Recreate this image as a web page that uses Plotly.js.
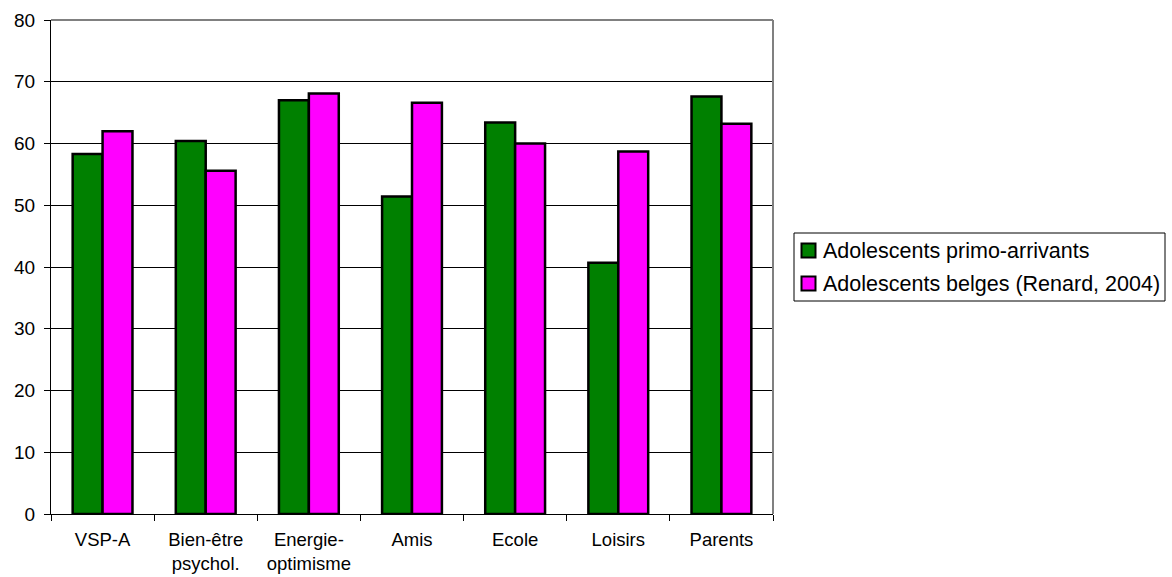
<!DOCTYPE html>
<html>
<head>
<meta charset="utf-8">
<script src="https://cdn.plot.ly/plotly-3.0.1.min.js"></script>
<style>
  html, body { margin: 0; padding: 0; background: #fff; }
  #chart { width: 1172px; height: 577px; }
</style>
</head>
<body>
<div id="chart"></div>
<script>
// Quality-of-life dimensions (VSP-A questionnaire)
const categories = ["VSP-A", "Bien-être<br>psychol.", "Energie-<br>optimisme", "Amis", "Ecole", "Loisirs", "Parents"];
const seriesNames = ["Adolescents primo-arrivants", "Adolescents belges (Renard, 2004)"];
const seriesColors = ["#008000", "#FF00FF"];
const primoArrivants = [58.3, 60.4, 67.0, 51.4, 63.4, 40.7, 67.6];
const belges = [62.0, 55.6, 68.1, 66.6, 60.0, 58.7, 63.2];
const yTicks = [0, 10, 20, 30, 40, 50, 60, 70, 80];

const font = "Liberation Sans, Arial, sans-serif";
const W = 1172, H = 577;
const M = { l: 51, r: 399, t: 20, b: 63 };
const plotW = W - M.l - M.r, plotH = H - M.t - M.b;

// pixel -> paper helpers for the boxed legend drawn at the right
const px = x => (x - M.l) / plotW;
const py = y => (H - M.b - y) / plotH;

const traces = [primoArrivants, belges].map((vals, i) => ({
  type: "bar", name: seriesNames[i], x: categories, y: vals,
  marker: { color: seriesColors[i], line: { color: "#000000", width: 2.5 } },
  hoverinfo: "x+y"
}));

// Legend: outer box, swatches and labels
const legendBox = { left: 794, right: 1165, top: 233, bottom: 301 };
const rowY = [250.5, 283.5];
const shapes = [
  { type: "line", xref: "paper", yref: "paper", x0: 0, x1: 1, y0: 1, y1: 1,
    line: { color: "#808080", width: 2 } },
  { type: "line", xref: "paper", yref: "paper", x0: 1, x1: 1, y0: 0, y1: 1,
    line: { color: "#808080", width: 2 } },
  { type: "rect", xref: "paper", yref: "paper",
    x0: px(legendBox.left), x1: px(legendBox.right),
    y0: py(legendBox.bottom), y1: py(legendBox.top),
    line: { color: "#000000", width: 1 }, fillcolor: "#ffffff" }
];
const annotations = [];
seriesNames.forEach((name, i) => {
  shapes.push({
    type: "rect", xref: "paper", yref: "paper",
    x0: px(801.5), x1: px(815.5), y0: py(rowY[i] + 7), y1: py(rowY[i] - 7),
    line: { color: "#000000", width: 2 }, fillcolor: seriesColors[i]
  });
  annotations.push({
    xref: "paper", yref: "paper", x: px(821), y: py(rowY[i]),
    xanchor: "left", yanchor: "middle", showarrow: false,
    text: name, font: { family: font, size: 21.5, color: "#000000" }
  });
});

const layout = {
  width: W, height: H,
  margin: M,
  paper_bgcolor: "#ffffff", plot_bgcolor: "#ffffff",
  font: { family: font, color: "#000000", size: 18 },
  barmode: "group", bargap: 0.42, bargroupgap: 0,
  showlegend: false,
  xaxis: {
    type: "category", tickson: "boundaries",
    ticks: "outside", ticklen: 6, tickcolor: "#000000", tickwidth: 1,
    showline: true, linecolor: "#000000", linewidth: 1,
    showgrid: false, ticklabelstandoff: 9,
    tickfont: { family: font, size: 18.5, color: "#000000" },
    fixedrange: true
  },
  yaxis: {
    range: [0, 80], tickvals: yTicks, ticktext: yTicks.map(String),
    ticks: "outside", ticklen: 6, tickcolor: "#000000", tickwidth: 1,
    showline: true, linecolor: "#000000", linewidth: 1,
    showgrid: true, gridcolor: "#000000", gridwidth: 1, zeroline: false,
    ticklabelstandoff: 5,
    tickfont: { family: font, size: 19, color: "#000000" },
    fixedrange: true
  },
  shapes: shapes,
  annotations: annotations
};

Plotly.newPlot("chart", traces, layout, { displayModeBar: false, staticPlot: true });
</script>
</body>
</html>
